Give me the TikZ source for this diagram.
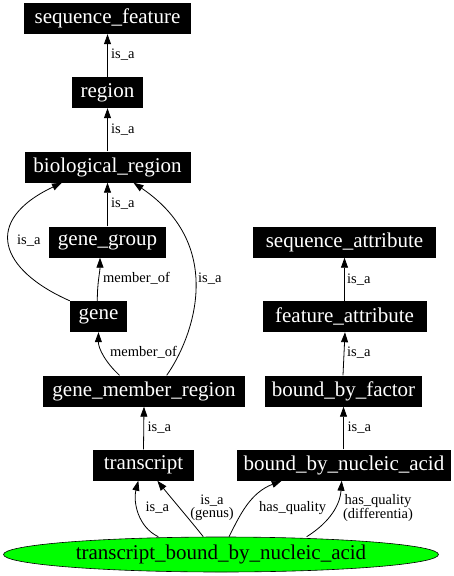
\documentclass[tikz,border=0pt]{standalone}
\usepackage{fontspec}
\setmainfont{Liberation Serif}
\usetikzlibrary{arrows.meta,shapes.geometric}
\tikzset{
  termbox/.style={rectangle, fill=black, text=white, inner sep=0pt, minimum height=31pt,
    font=\fontsize{21}{21}\selectfont},
  rel/.style={-{Triangle[length=10pt,width=7pt]}, line width=0.8pt, draw=black},
  lbl/.style={inner sep=0pt, font=\fontsize{14.5}{13}\selectfont, align=center},
}
\begin{document}
\begin{tikzpicture}[x=1pt,y=-1pt]
\useasboundingbox (0,0) rectangle (453,576);
% left column
\node[termbox, minimum width=167pt] (sf)   at (107.5,18.5) {sequence\_feature};
\node[termbox, minimum width=71pt]  (reg)  at (107.5,92.5) {region};
\node[termbox, minimum width=166pt] (br)   at (107.5,167)  {biological\_region};
\node[termbox, minimum width=117pt] (gg)   at (107.5,242)  {gene\_group};
\node[termbox, minimum width=57pt]  (gene) at (98.5,316.5) {gene};
\node[termbox, minimum width=202pt] (gmr)  at (144,391)    {gene\_member\_region};
\node[termbox, minimum width=101pt] (tr)   at (143.5,465)  {transcript};
% right column
\node[termbox, minimum width=183pt] (sa)   at (344.5,242)  {sequence\_attribute};
\node[termbox, minimum width=164pt] (fa)   at (344.5,316.5){feature\_attribute};
\node[termbox, minimum width=157pt] (bbf)  at (343.5,391)  {bound\_by\_factor};
\node[termbox, minimum width=214pt] (bbna) at (344,465)    {bound\_by\_nucleic\_acid};
% bottom ellipse
\node[ellipse, draw=black, line width=0.6pt, fill={rgb,255:red,0;green,255;blue,0}, inner sep=0pt,
      minimum width=435pt, minimum height=35pt, font=\fontsize{21}{21}\selectfont]
      (tbna) at (221,554.5) {transcript\_bound\_by\_nucleic\_acid};

% straight is_a edges
\draw[rel] (reg.north) -- (sf.south);
\draw[rel] (br.north) -- (reg.south);
\draw[rel] (gg.north) -- (br.south);
\draw[rel] (tr.north) -- (gmr.south);
\draw[rel] (fa.north) -- (sa.south);
\draw[rel] ([xshift=-0.5pt]bbf.north) -- ([xshift=0.5pt]fa.south);
\draw[rel] ([xshift=-0.5pt]bbna.north) -- (bbf.south);
% curved edges
\draw[rel] (gene.north west) .. controls (0,270) and (-18.7,221) .. ([xshift=-45.5pt]br.south);
\draw[rel] ([xshift=-1.2pt]gene.north) .. controls (97.3,282) and (100,272) .. ([xshift=-7.5pt]gg.south);
\draw[rel] ([xshift=-24.5pt]gmr.north) .. controls (105,362) and (98.3,348) .. (gene.south);
\draw[rel] ([xshift=22.7pt]gmr.north) .. controls (191.7,340) and (228.3,247) .. ([xshift=26pt]br.south);
\draw[rel] ([xshift=-62.7pt]tbna.north) .. controls (138,527) and (133,502) .. ([xshift=-5.2pt]tr.south);
\draw[rel] ([xshift=-17.7pt]tbna.north) .. controls (190,520) and (172,499) .. ([xshift=13.8pt]tr.south);
\draw[rel] ([xshift=8pt]tbna.north) .. controls (240,515) and (250,493) .. ([xshift=-62.3pt]bbna.south);
\draw[rel] ([xshift=85.7pt]tbna.north) .. controls (330,522) and (340,505) .. ([xshift=-2.3pt]bbna.south);

% edge labels
\node[lbl, anchor=west] (l1)  at (111,55)    {is\_a};
\node[lbl, anchor=west] (l2)  at (111,130)   {is\_a};
\node[lbl, anchor=west] (l3)  at (111,204)   {is\_a};
\node[lbl, anchor=west] (l4)  at (17,241)    {is\_a};
\node[lbl, anchor=west] (l5)  at (103,278)   {member\_of};
\node[lbl, anchor=west] (l6)  at (110,352)   {member\_of};
\node[lbl, anchor=west] (l7)  at (198,279)   {is\_a};
\node[lbl, anchor=west] (l8)  at (147.5,428) {is\_a};
\node[lbl, anchor=west] (l9)  at (347,280)   {is\_a};
\node[lbl, anchor=west] (l10) at (347,353)   {is\_a};
\node[lbl, anchor=west] (l11) at (347.5,428) {is\_a};
\node[lbl, anchor=west] (l12) at (145.5,508) {is\_a};
\node[lbl] (l13) at (212,508) {is\_a\\(genus)};
\node[lbl, anchor=west] (l14) at (259,508)   {has\_quality};
\node[lbl] (l15) at (378,508) {has\_quality\\(differentia)};
\end{tikzpicture}
\end{document}
